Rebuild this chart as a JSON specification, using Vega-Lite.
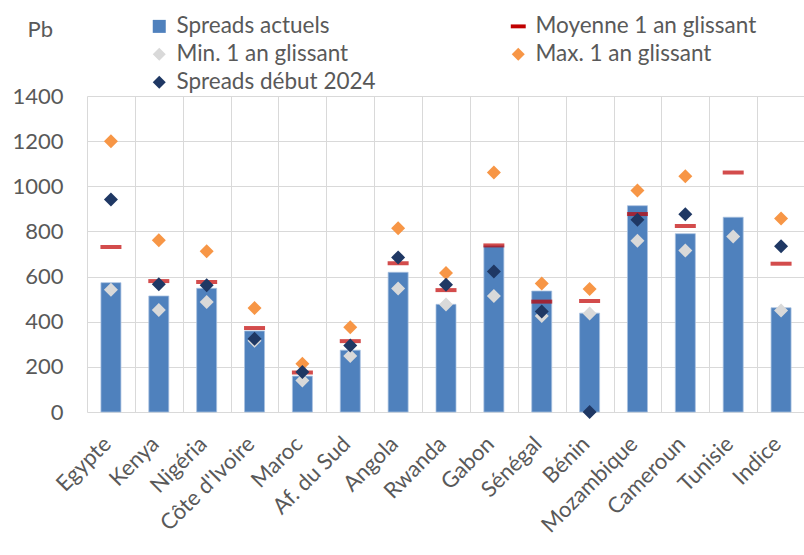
{
  "$schema": "https://vega.github.io/schema/vega-lite/v6.json",
  "autosize": {"type": "none"},
  "padding": {"left": 87, "top": 96, "right": 0, "bottom": 143},
  "width": 718,
  "height": 316,
  "background": "white",
  "config": {
    "font": "Lato",
    "view": {"stroke": null},
    "axis": {"labelFont": "Lato", "labelColor": "#595959", "labelFontSize": 22, "gridColor": "#D9D9D9", "gridWidth": 1, "domain": false, "ticks": false, "titleFont": "Lato"},
    "legend": {"labelFont": "Lato", "labelFontSize": 22.5, "labelColor": "#595959", "labelLimit": 400, "symbolSize": 169, "symbolStrokeWidth": 0, "labelOffset": 6, "columns": 2, "direction": "horizontal", "columnPadding": 131, "rowPadding": 5, "orient": "none", "legendX": 61, "legendY": -81, "title": null}
  },
  "data": {"values": [
    {"pays": "Egypte", "serie": "Spreads actuels", "valeur": 573},
    {"pays": "Kenya", "serie": "Spreads actuels", "valeur": 514},
    {"pays": "Nigéria", "serie": "Spreads actuels", "valeur": 548},
    {"pays": "Côte d'Ivoire", "serie": "Spreads actuels", "valeur": 359},
    {"pays": "Maroc", "serie": "Spreads actuels", "valeur": 159},
    {"pays": "Af. du Sud", "serie": "Spreads actuels", "valeur": 274},
    {"pays": "Angola", "serie": "Spreads actuels", "valeur": 619},
    {"pays": "Rwanda", "serie": "Spreads actuels", "valeur": 477},
    {"pays": "Gabon", "serie": "Spreads actuels", "valeur": 737},
    {"pays": "Sénégal", "serie": "Spreads actuels", "valeur": 536},
    {"pays": "Bénin", "serie": "Spreads actuels", "valeur": 438},
    {"pays": "Mozambique", "serie": "Spreads actuels", "valeur": 914},
    {"pays": "Cameroun", "serie": "Spreads actuels", "valeur": 790},
    {"pays": "Tunisie", "serie": "Spreads actuels", "valeur": 863},
    {"pays": "Indice", "serie": "Spreads actuels", "valeur": 462},
    {"pays": "Egypte", "serie": "Moyenne 1 an glissant", "valeur": 731},
    {"pays": "Kenya", "serie": "Moyenne 1 an glissant", "valeur": 580},
    {"pays": "Nigéria", "serie": "Moyenne 1 an glissant", "valeur": 576},
    {"pays": "Côte d'Ivoire", "serie": "Moyenne 1 an glissant", "valeur": 372},
    {"pays": "Maroc", "serie": "Moyenne 1 an glissant", "valeur": 175},
    {"pays": "Af. du Sud", "serie": "Moyenne 1 an glissant", "valeur": 314},
    {"pays": "Angola", "serie": "Moyenne 1 an glissant", "valeur": 659},
    {"pays": "Rwanda", "serie": "Moyenne 1 an glissant", "valeur": 540},
    {"pays": "Gabon", "serie": "Moyenne 1 an glissant", "valeur": 738},
    {"pays": "Sénégal", "serie": "Moyenne 1 an glissant", "valeur": 489},
    {"pays": "Bénin", "serie": "Moyenne 1 an glissant", "valeur": 492},
    {"pays": "Mozambique", "serie": "Moyenne 1 an glissant", "valeur": 877},
    {"pays": "Cameroun", "serie": "Moyenne 1 an glissant", "valeur": 824},
    {"pays": "Tunisie", "serie": "Moyenne 1 an glissant", "valeur": 1061},
    {"pays": "Indice", "serie": "Moyenne 1 an glissant", "valeur": 657},
    {"pays": "Egypte", "serie": "Min. 1 an glissant", "valeur": 542},
    {"pays": "Kenya", "serie": "Min. 1 an glissant", "valeur": 452},
    {"pays": "Nigéria", "serie": "Min. 1 an glissant", "valeur": 487},
    {"pays": "Côte d'Ivoire", "serie": "Min. 1 an glissant", "valeur": 316},
    {"pays": "Maroc", "serie": "Min. 1 an glissant", "valeur": 140},
    {"pays": "Af. du Sud", "serie": "Min. 1 an glissant", "valeur": 248},
    {"pays": "Angola", "serie": "Min. 1 an glissant", "valeur": 547},
    {"pays": "Rwanda", "serie": "Min. 1 an glissant", "valeur": 476},
    {"pays": "Gabon", "serie": "Min. 1 an glissant", "valeur": 514},
    {"pays": "Sénégal", "serie": "Min. 1 an glissant", "valeur": 425},
    {"pays": "Bénin", "serie": "Min. 1 an glissant", "valeur": 436},
    {"pays": "Mozambique", "serie": "Min. 1 an glissant", "valeur": 759},
    {"pays": "Cameroun", "serie": "Min. 1 an glissant", "valeur": 715},
    {"pays": "Tunisie", "serie": "Min. 1 an glissant", "valeur": 778},
    {"pays": "Indice", "serie": "Min. 1 an glissant", "valeur": 450},
    {"pays": "Egypte", "serie": "Max. 1 an glissant", "valeur": 1200},
    {"pays": "Kenya", "serie": "Max. 1 an glissant", "valeur": 761},
    {"pays": "Nigéria", "serie": "Max. 1 an glissant", "valeur": 712},
    {"pays": "Côte d'Ivoire", "serie": "Max. 1 an glissant", "valeur": 461},
    {"pays": "Maroc", "serie": "Max. 1 an glissant", "valeur": 214},
    {"pays": "Af. du Sud", "serie": "Max. 1 an glissant", "valeur": 375},
    {"pays": "Angola", "serie": "Max. 1 an glissant", "valeur": 814},
    {"pays": "Rwanda", "serie": "Max. 1 an glissant", "valeur": 616},
    {"pays": "Gabon", "serie": "Max. 1 an glissant", "valeur": 1061},
    {"pays": "Sénégal", "serie": "Max. 1 an glissant", "valeur": 569},
    {"pays": "Bénin", "serie": "Max. 1 an glissant", "valeur": 545},
    {"pays": "Mozambique", "serie": "Max. 1 an glissant", "valeur": 981},
    {"pays": "Cameroun", "serie": "Max. 1 an glissant", "valeur": 1044},
    {"pays": "Indice", "serie": "Max. 1 an glissant", "valeur": 857},
    {"pays": "Egypte", "serie": "Spreads début 2024", "valeur": 942},
    {"pays": "Kenya", "serie": "Spreads début 2024", "valeur": 566},
    {"pays": "Nigéria", "serie": "Spreads début 2024", "valeur": 561},
    {"pays": "Côte d'Ivoire", "serie": "Spreads début 2024", "valeur": 325},
    {"pays": "Maroc", "serie": "Spreads début 2024", "valeur": 177},
    {"pays": "Af. du Sud", "serie": "Spreads début 2024", "valeur": 295},
    {"pays": "Angola", "serie": "Spreads début 2024", "valeur": 685},
    {"pays": "Rwanda", "serie": "Spreads début 2024", "valeur": 564},
    {"pays": "Gabon", "serie": "Spreads début 2024", "valeur": 623},
    {"pays": "Sénégal", "serie": "Spreads début 2024", "valeur": 445},
    {"pays": "Bénin", "serie": "Spreads début 2024", "valeur": 0},
    {"pays": "Mozambique", "serie": "Spreads début 2024", "valeur": 852},
    {"pays": "Cameroun", "serie": "Spreads début 2024", "valeur": 876},
    {"pays": "Indice", "serie": "Spreads début 2024", "valeur": 734}
  ]},
  "encoding": {
    "x": {
      "field": "pays", "type": "nominal",
      "sort": ["Egypte", "Kenya", "Nigéria", "Côte d'Ivoire", "Maroc", "Af. du Sud", "Angola", "Rwanda", "Gabon", "Sénégal", "Bénin", "Mozambique", "Cameroun", "Tunisie", "Indice"],
      "scale": {"paddingInner": 0, "paddingOuter": 0},
      "axis": {"title": null, "labelAngle": -45, "labelAlign": "right", "labelBaseline": "middle", "labelPadding": 28, "labelOffset": -4, "tickBand": "extent", "grid": true}
    },
    "y": {
      "field": "valeur", "type": "quantitative",
      "scale": {"domain": [0, 1400], "nice": false},
      "axis": {"values": [0, 200, 400, 600, 800, 1000, 1200, 1400], "format": "d", "title": "Pb", "titleAngle": 0, "titleX": -60, "titleY": -67, "titleAlign": "left", "titleBaseline": "middle", "titleFontSize": 22, "titleFontWeight": "normal", "titleColor": "#595959", "labelPadding": 24, "grid": true}
    },
    "color": {
      "field": "serie", "type": "nominal",
      "scale": {"domain": ["Spreads actuels", "Moyenne 1 an glissant", "Min. 1 an glissant", "Max. 1 an glissant", "Spreads début 2024"], "range": ["#4F81BD", "#C00000", "#D9D9D9", "#F79646", "#1F3864"]},
      "legend": {"title": null}
    }
  },
  "layer": [
    {
      "transform": [{"filter": "datum.serie === 'Spreads actuels'"}],
      "mark": {"type": "bar", "size": 20, "stroke": "#A9C1E0", "strokeWidth": 0.75}
    },
    {
      "transform": [{"filter": "datum.serie === 'Moyenne 1 an glissant'"}],
      "mark": {"type": "tick", "size": 21, "thickness": 4}
    },
    {
      "transform": [{"filter": "datum.serie !== 'Spreads actuels' && datum.serie !== 'Moyenne 1 an glissant'"}],
      "mark": {"type": "point", "filled": true, "size": 196, "opacity": 1},
      "encoding": {
        "shape": {
          "field": "serie", "type": "nominal",
          "scale": {"domain": ["Spreads actuels", "Moyenne 1 an glissant", "Min. 1 an glissant", "Max. 1 an glissant", "Spreads début 2024"], "range": ["M-1,-1H1V1H-1Z", "M-1.15,-0.3H1.15V0.3H-1.15Z", "M0,-1L1,0L0,1L-1,0Z", "M0,-1L1,0L0,1L-1,0Z", "M0,-1L1,0L0,1L-1,0Z"]},
          "legend": {"title": null}
        }
      }
    }
  ]
}
